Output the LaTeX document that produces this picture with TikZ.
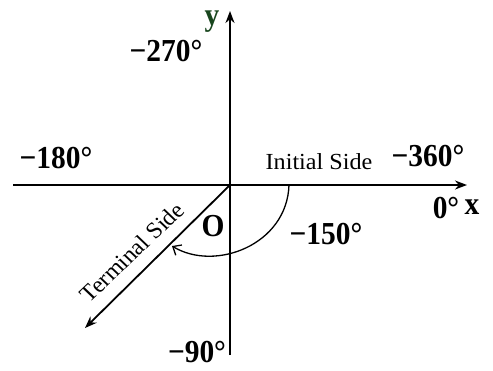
\documentclass[tikz,border=0pt]{standalone}
\usepackage{fontspec}
\setmainfont{Liberation Serif}
\usetikzlibrary{arrows.meta}
\definecolor{ygreen}{RGB}{25,70,30}
\begin{document}
\begin{tikzpicture}[x=1pt,y=-1pt,
  axis/.style={line width=1.8pt,-{Stealth[length=12pt,width=9pt]}},
  lbl/.style={font=\bfseries\fontsize{32}{34}\selectfont,inner sep=0pt,xscale=0.92},
  side/.style={font=\fontsize{23}{25}\selectfont,inner sep=0pt}]
\useasboundingbox (0,0) rectangle (493,370);
\coordinate (O) at (230,185);
\coordinate (xl) at (13,185);
\coordinate (xr) at (467,185);
\coordinate (yb) at (230,355);
\coordinate (yt) at (230,11);
\coordinate (T) at (85,328);
\coordinate (a0) at (289,185);
\coordinate (a1) at (172,246);
\draw[axis] (xl) -- (xr);
\draw[axis] (yb) -- (yt);
\draw[axis] (O) -- (T);
\draw[line width=1.3pt,-{Straight Barb[length=7pt,width=12pt]}] (a0) .. controls (287,245) and (215,272) .. (a1);
\node[lbl] (n270) at (166,51) {−270°};
\node[lbl] (n180) at (56,158) {−180°};
\node[lbl] (n360) at (428,156) {−360°};
\node[lbl] (n150) at (326,234) {−150°};
\node[lbl] (n90) at (197,352) {−90°};
\node[lbl] (n0) at (446,208) {0°};
\node[lbl] (nx) at (472,207) {x};
\node[lbl,text=ygreen] (ny) at (212,22) {y};
\node[lbl] (nO) at (213,226) {O};
\node[side,xscale=1.05] (ini) at (319,162) {Initial Side};
\node[side,xscale=1.05,rotate=45] (ter) at (132,252) {Terminal Side};
\end{tikzpicture}
\end{document}
